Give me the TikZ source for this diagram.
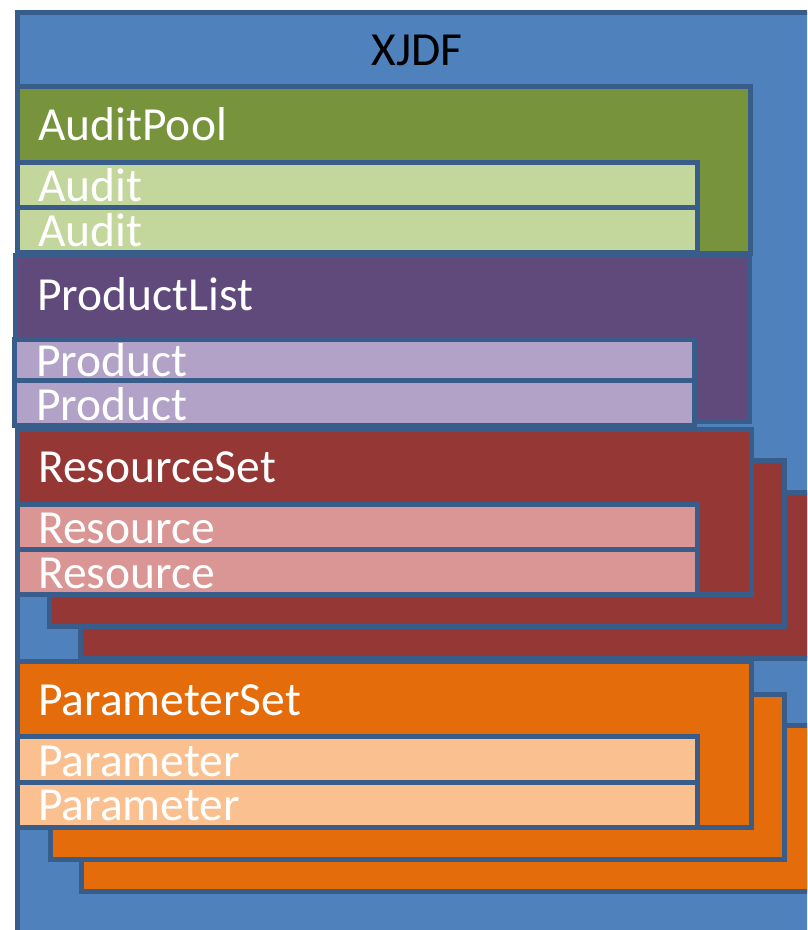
\documentclass[tikz,border=0pt]{standalone}
\usepackage{fontspec}
\setmainfont{Carlito}
\definecolor{xjdffill}{HTML}{4F81BD}
\definecolor{edge}{HTML}{385D8A}
\definecolor{poolfill}{HTML}{77933C}
\definecolor{auditfill}{HTML}{C3D69B}
\definecolor{plfill}{HTML}{604A7B}
\definecolor{prodfill}{HTML}{B3A2C7}
\definecolor{rsfill}{HTML}{953735}
\definecolor{resfill}{HTML}{D99694}
\definecolor{psfill}{HTML}{E46C0A}
\definecolor{parfill}{HTML}{FAC090}
\tikzset{
  box/.style={draw=edge, line width=5pt},
  lbl/.style={anchor=base west, inner sep=0pt, text=white, font=\fontsize{47.5}{56}\selectfont},
}
\begin{document}
\begin{tikzpicture}[x=1pt,y=-1pt]
\useasboundingbox (0,0) rectangle (807,930);
\clip (0,0) rectangle (807,930);
% XJDF
\path[box, fill=xjdffill] (17,12) rectangle (840,970);
\node[anchor=base, inner sep=0pt, text=black, font=\fontsize{47.5}{56}\selectfont] (xjdf) at (417,65) {XJDF};
% AuditPool
\path[box, fill=poolfill] (17,86.5) rectangle (750.5,253);
\node[lbl] (auditpool) at (38,140) {AuditPool};
\path[box, fill=auditfill] (17,162.5) rectangle (697.5,207.5);
\path[box, fill=auditfill] (17,207.5) rectangle (697.5,252.5);
\node[lbl] (audit1) at (38,201.5) {Audit};
\node[lbl] (audit2) at (38,246.5) {Audit};
% ProductList
\path[box, fill=plfill] (15.5,255.5) rectangle (749.5,421.5);
\node[lbl] (productlist) at (37,310) {ProductList};
\path[box, fill=prodfill] (14,339) rectangle (694.5,380.5);
\path[box, fill=prodfill] (14,380.5) rectangle (694.5,425);
\node[lbl] (product1) at (36,376.5) {Product};
\node[lbl] (product2) at (36,420) {Product};
% ResourceSet stack
\path[box, fill=rsfill] (80.5,492.5) rectangle (840,658);
\path[box, fill=rsfill] (49.5,460.5) rectangle (784.5,626.5);
\path[box, fill=rsfill] (17,429.5) rectangle (751,594.5);
\node[lbl] (resourceset) at (38,482.5) {ResourceSet};
\path[box, fill=resfill] (17,504.5) rectangle (697.5,549.5);
\path[box, fill=resfill] (17,549.5) rectangle (697.5,594.5);
\node[lbl] (resource1) at (38,543) {Resource};
\node[lbl] (resource2) at (38,588) {Resource};
% ParameterSet stack
\path[box, fill=psfill] (81.5,725.5) rectangle (840,891.5);
\path[box, fill=psfill] (50,694) rectangle (784.5,859.5);
\path[box, fill=psfill] (17,661.5) rectangle (751,827.5);
\node[lbl] (parameterset) at (38,715) {ParameterSet};
\path[box, fill=parfill] (17,736.5) rectangle (697.5,782);
\path[box, fill=parfill] (17,782) rectangle (697.5,827.5);
\node[lbl] (parameter1) at (38,776) {Parameter};
\node[lbl] (parameter2) at (38,820.5) {Parameter};
\end{tikzpicture}
\end{document}
